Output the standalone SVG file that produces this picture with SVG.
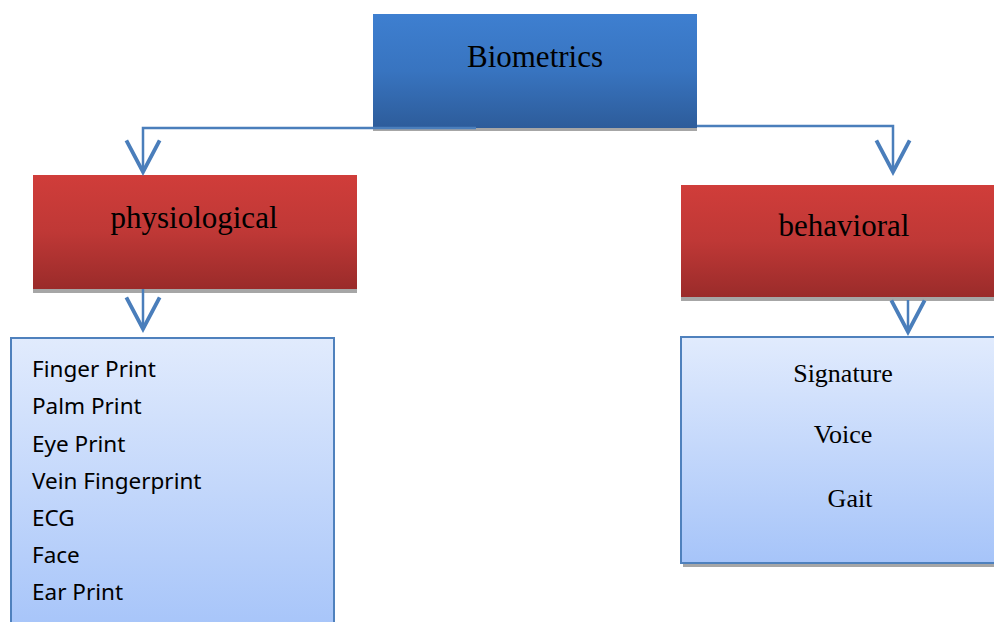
<svg xmlns="http://www.w3.org/2000/svg" width="994" height="622" viewBox="0 0 994 622">
<style>
.shadow{fill:#a6a6a6}
.title{font-family:"Liberation Serif","Times New Roman",serif;font-size:31px;fill:#000;text-anchor:middle}
.item{font-family:"Liberation Serif","Times New Roman",serif;font-size:26px;fill:#000;text-anchor:middle}
.list{font-family:"Noto Sans","Liberation Sans",sans-serif;font-size:22.5px;fill:#000}
.conn{fill:none;stroke:#4a7ebb;stroke-width:2.5}
.listbox{stroke:#4f81bd;stroke-width:2}
</style>
<defs>
<linearGradient id="gBlue" x1="0" y1="0" x2="0" y2="1">
<stop offset="0" stop-color="#3e7fd0"/><stop offset="0.5" stop-color="#3874c0"/><stop offset="1" stop-color="#2d5c9a"/>
</linearGradient>
<linearGradient id="gRed" x1="0" y1="0" x2="0" y2="1">
<stop offset="0" stop-color="#d03d3a"/><stop offset="0.5" stop-color="#bf3836"/><stop offset="1" stop-color="#9a2b2a"/>
</linearGradient>
<linearGradient id="gList" x1="0" y1="0" x2="0" y2="1">
<stop offset="0" stop-color="#e1ebfd"/><stop offset="1" stop-color="#a6c4f9"/>
</linearGradient>
<marker id="arr" markerUnits="userSpaceOnUse" orient="auto" refX="0" refY="0" markerWidth="40" markerHeight="40" viewBox="-20 -12 24 24" overflow="visible">
<path d="M-19,-10 L0,0 L-19,10" fill="none" stroke="#4a7ebb" stroke-width="2.3" stroke-linejoin="miter"/>
</marker>
</defs>

<g id="biometrics">
<rect class="shadow" x="373" y="14" width="324" height="117"/>
<rect x="373" y="14" width="324" height="114" fill="url(#gBlue)"/>
<text class="title" x="535" y="67">Biometrics</text>
</g>

<g id="physiological">
<rect class="shadow" x="33" y="175" width="324" height="118"/>
<rect x="33" y="175" width="324" height="114" fill="url(#gRed)"/>
<text class="title" x="194" y="228">physiological</text>
</g>

<g id="behavioral">
<rect class="shadow" x="681" y="185" width="320" height="116"/>
<rect x="681" y="185" width="320" height="112" fill="url(#gRed)"/>
<text class="title" x="844" y="236">behavioral</text>
</g>

<g id="physiological-list">
<rect class="listbox" x="11" y="338" width="323" height="295" fill="url(#gList)"/>
<text class="list" x="32" y="377">Finger Print</text>
<text class="list" x="32" y="414">Palm Print</text>
<text class="list" x="32" y="452">Eye Print</text>
<text class="list" x="32" y="489">Vein Fingerprint</text>
<text class="list" x="32" y="526">ECG</text>
<text class="list" x="32" y="563">Face</text>
<text class="list" x="32" y="600">Ear Print</text>
</g>

<g id="behavioral-list">
<rect class="shadow" x="683" y="340" width="320" height="227"/>
<rect class="listbox" x="681" y="337" width="320" height="226" fill="url(#gList)"/>
<text class="item" x="843" y="382">Signature</text>
<text class="item" x="843" y="443">Voice</text>
<text class="item" x="850" y="507">Gait</text>
</g>

<g id="connectors">
<path class="conn" d="M476,128 H143 V172" marker-end="url(#arr)"/>
<path class="conn" d="M697,126 H893 V172" marker-end="url(#arr)"/>
<path class="conn" d="M143,289 V329" marker-end="url(#arr)"/>
<path class="conn" d="M908,300 V332" marker-end="url(#arr)"/>
</g>
</svg>
